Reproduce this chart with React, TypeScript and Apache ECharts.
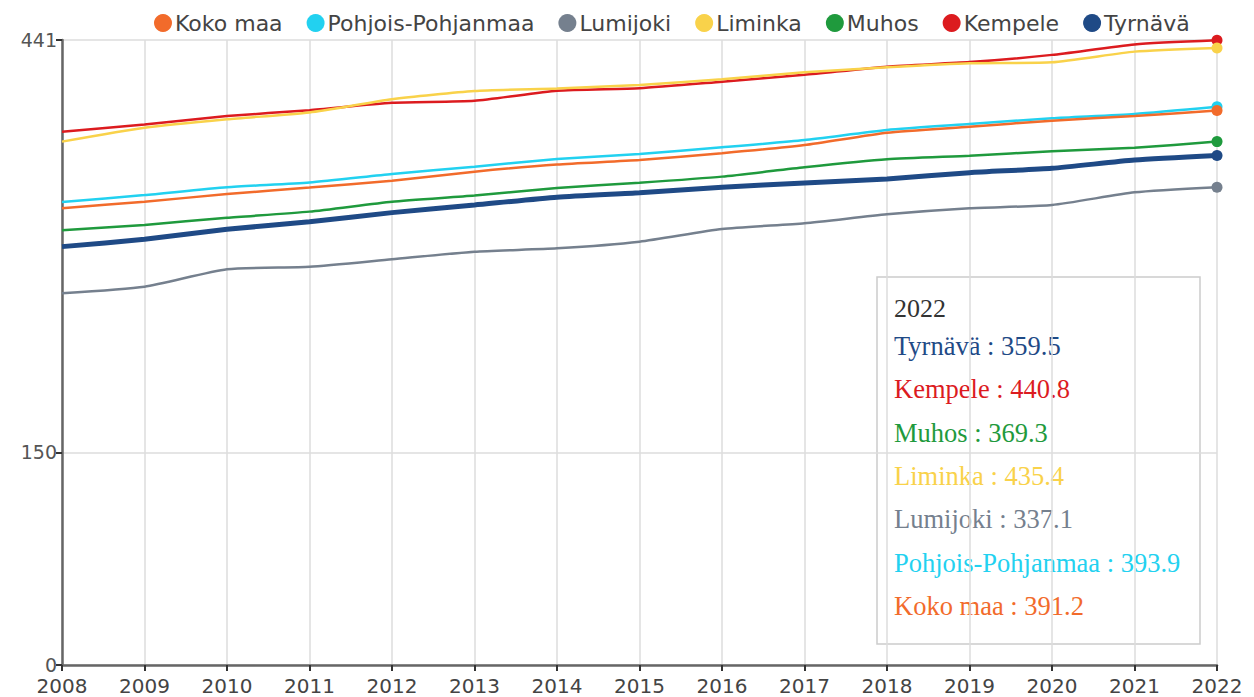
import React, { useEffect, useRef } from "react";
import * as echarts from "echarts";

const years = ["2008","2009","2010","2011","2012","2013","2014","2015","2016","2017","2018","2019","2020","2021","2022"];
const kokoMaa = [322.3, 326.9, 332.3, 336.9, 341.7, 348.1, 353.2, 356.3, 361.1, 366.9, 375.6, 379.8, 384.1, 387.4, 391.2];
const pohjoisPohjanmaa = [326.7, 331.6, 337.1, 340.5, 346.5, 351.6, 357.0, 360.6, 365.3, 370.4, 377.5, 381.7, 385.8, 388.8, 393.9];
const lumijoki = [262.3, 266.9, 279.2, 281.0, 286.3, 291.6, 294.0, 298.7, 307.6, 311.7, 318.0, 322.3, 324.6, 333.5, 337.1];
const liminka = [369.3, 379.1, 385.1, 389.9, 399.2, 405.0, 406.8, 409.3, 413.3, 418.2, 421.7, 424.6, 425.3, 432.8, 435.4];
const muhos = [306.7, 310.5, 315.6, 319.9, 326.9, 331.2, 336.6, 340.3, 344.6, 351.2, 356.8, 359.4, 362.5, 365.0, 369.3];
const kempele = [376.2, 381.4, 387.3, 391.5, 396.7, 398.1, 405.2, 407.0, 411.6, 416.4, 422.2, 425.4, 430.5, 437.9, 440.8];
const tyrnava = [295.2, 300.4, 307.4, 312.8, 319.2, 324.6, 330.1, 333.3, 337.1, 340.1, 342.9, 347.4, 350.5, 356.3, 359.5];
const yTicks = [0, 150, 441];

const seriesDefs = [
  { name: "Koko maa", data: kokoMaa, color: "#f26b2b", width: 2.5 },
  { name: "Pohjois-Pohjanmaa", data: pohjoisPohjanmaa, color: "#22d1f0", width: 2.5 },
  { name: "Lumijoki", data: lumijoki, color: "#75808e", width: 2.5 },
  { name: "Liminka", data: liminka, color: "#f9d24a", width: 2.5 },
  { name: "Muhos", data: muhos, color: "#1f9a3d", width: 2.5 },
  { name: "Kempele", data: kempele, color: "#dc1b1f", width: 2.5 },
  { name: "Tyrnävä", data: tyrnava, color: "#1f4a86", width: 5 },
];

const tooltipOrder = ["Tyrnävä", "Kempele", "Muhos", "Liminka", "Lumijoki", "Pohjois-Pohjanmaa", "Koko maa"];

export default function App() {
  const ref = useRef<HTMLDivElement>(null);
  useEffect(() => {
    const chart = echarts.init(ref.current!, null, { renderer: "svg" });
    const last = years.length - 1;
    const texts: any[] = [
      {
        type: "text",
        x: 894,
        y: 308,
        style: { text: years[last], fill: "#333", font: "26px 'Liberation Serif'", textVerticalAlign: "middle" },
      },
    ];
    tooltipOrder.forEach((n, i) => {
      const s = seriesDefs.find((d) => d.name === n)!;
      texts.push({
        type: "text",
        x: 894,
        y: 346 + i * 43.3,
        style: {
          text: `${s.name} : ${s.data[last]}`,
          fill: s.color,
          font: "26.5px 'Liberation Serif'",
          textVerticalAlign: "middle",
        },
      });
    });
    chart.setOption({
      animation: false,
      backgroundColor: "#fff",
      legend: {
        top: 7,
        left: 149,
        icon: "circle",
        itemWidth: 18,
        itemHeight: 18,
        itemGap: 24,
        textStyle: { fontFamily: "DejaVu Sans", fontSize: 22, color: "#444", padding: [0, 0, 0, -2] },
        data: seriesDefs.map((s) => s.name),
      },
      grid: { left: 62, right: 37, top: 40, bottom: 32 },
      xAxis: {
        type: "category",
        data: years,
        boundaryGap: false,
        axisLine: { lineStyle: { color: "#666", width: 2.5 } },
        axisTick: { show: true, length: 6, lineStyle: { color: "#333", width: 2 } },
        axisLabel: { fontFamily: "DejaVu Sans", fontSize: 20, color: "#444", margin: 11 },
        splitLine: { show: true, lineStyle: { color: "#dcdcdc", width: 1.5 } },
      },
      yAxis: {
        type: "value",
        min: 0,
        max: 441,
        axisLine: { show: true, lineStyle: { color: "#666", width: 2.5 } },
        axisTick: { show: true, length: 6, lineStyle: { color: "#333", width: 2 }, customValues: yTicks },
        axisLabel: { fontFamily: "DejaVu Sans", fontSize: 19, color: "#555", margin: 5, customValues: yTicks },
        splitLine: { show: true, lineStyle: { color: "#dcdcdc", width: 1.5 } },
      },
      series: seriesDefs.map((s, idx) => ({
        name: s.name,
        type: "line",
        z: 20 - idx,
        smooth: 0.2,
        symbol: "none",
        showSymbol: true,
        showAllSymbol: true,
        color: s.color,
        lineStyle: { color: s.color, width: s.width },
        itemStyle: { color: s.color },
        emphasis: { disabled: true },
        data: s.data.map((v, i) =>
          i === last ? { value: v, symbol: "circle", symbolSize: 11, itemStyle: { color: s.color } } : v
        ),
      })),
      graphic: [
        {
          type: "group",
          children: [
            {
              type: "rect",
              shape: { x: 877, y: 277, width: 323, height: 367 },
              style: { fill: "#fff", stroke: "#cccccc", lineWidth: 1.5 },
            },
            ...texts,
          ],
        },
      ],
    });
    return () => chart.dispose();
  }, []);
  return <div ref={ref} style={{ width: 1254, height: 697, position: "absolute", left: 0, top: 0 }} />;
}
